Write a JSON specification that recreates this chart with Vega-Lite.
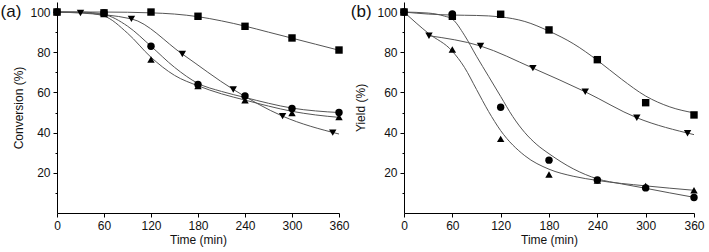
{
  "$schema": "https://vega.github.io/schema/vega-lite/v6.json",
  "padding": {"left": 0, "top": 2, "right": 4, "bottom": 2},
  "spacing": 0,
  "config": {
    "view": {"stroke": null},
    "font": "Liberation Sans",
    "axis": {
      "domainColor": "#000", "tickColor": "#000", "labelColor": "#111", "titleColor": "#111",
      "labelFontSize": 12, "titleFontSize": 12, "titleFontWeight": "normal", "grid": false,
      "labelFont": "Liberation Sans", "titleFont": "Liberation Sans", "labelPadding": 3
    }
  },
  "datasets": {
    "points": [
      {"panel": "a", "series": "sq", "t": 0, "v": 100}, {"panel": "a", "series": "sq", "t": 60, "v": 99.6}, {"panel": "a", "series": "sq", "t": 120, "v": 100}, {"panel": "a", "series": "sq", "t": 180, "v": 97.9}, {"panel": "a", "series": "sq", "t": 240, "v": 92.9}, {"panel": "a", "series": "sq", "t": 300, "v": 87.1}, {"panel": "a", "series": "sq", "t": 360, "v": 81.1},
      {"panel": "a", "series": "ci", "t": 0, "v": 100}, {"panel": "a", "series": "ci", "t": 60, "v": 99.5}, {"panel": "a", "series": "ci", "t": 120, "v": 83}, {"panel": "a", "series": "ci", "t": 180, "v": 64}, {"panel": "a", "series": "ci", "t": 240, "v": 58.2}, {"panel": "a", "series": "ci", "t": 300, "v": 52}, {"panel": "a", "series": "ci", "t": 360, "v": 50},
      {"panel": "a", "series": "tu", "t": 0, "v": 100}, {"panel": "a", "series": "tu", "t": 60, "v": 99}, {"panel": "a", "series": "tu", "t": 120, "v": 76.4}, {"panel": "a", "series": "tu", "t": 180, "v": 63.2}, {"panel": "a", "series": "tu", "t": 240, "v": 56.1}, {"panel": "a", "series": "tu", "t": 300, "v": 49.8}, {"panel": "a", "series": "tu", "t": 360, "v": 47.8},
      {"panel": "a", "series": "td", "t": 0, "v": 100}, {"panel": "a", "series": "td", "t": 30, "v": 99.5}, {"panel": "a", "series": "td", "t": 95, "v": 96.6}, {"panel": "a", "series": "td", "t": 160, "v": 79.1}, {"panel": "a", "series": "td", "t": 225, "v": 61.5}, {"panel": "a", "series": "td", "t": 288, "v": 48.2}, {"panel": "a", "series": "td", "t": 352, "v": 40},
      {"panel": "b", "series": "sq", "t": 0, "v": 100}, {"panel": "b", "series": "sq", "t": 60, "v": 97.9}, {"panel": "b", "series": "sq", "t": 120, "v": 98.9}, {"panel": "b", "series": "sq", "t": 180, "v": 91.1}, {"panel": "b", "series": "sq", "t": 240, "v": 76.3}, {"panel": "b", "series": "sq", "t": 300, "v": 54.9}, {"panel": "b", "series": "sq", "t": 360, "v": 48.8},
      {"panel": "b", "series": "ci", "t": 0, "v": 100}, {"panel": "b", "series": "ci", "t": 60, "v": 99}, {"panel": "b", "series": "ci", "t": 120, "v": 52.6}, {"panel": "b", "series": "ci", "t": 180, "v": 26.3}, {"panel": "b", "series": "ci", "t": 240, "v": 16.4}, {"panel": "b", "series": "ci", "t": 300, "v": 12.5}, {"panel": "b", "series": "ci", "t": 360, "v": 7.7},
      {"panel": "b", "series": "tu", "t": 0, "v": 100}, {"panel": "b", "series": "tu", "t": 60, "v": 81.4}, {"panel": "b", "series": "tu", "t": 120, "v": 36.9}, {"panel": "b", "series": "tu", "t": 180, "v": 19.2}, {"panel": "b", "series": "tu", "t": 240, "v": 16.2}, {"panel": "b", "series": "tu", "t": 300, "v": 13.4}, {"panel": "b", "series": "tu", "t": 360, "v": 11.3},
      {"panel": "b", "series": "td", "t": 0, "v": 100}, {"panel": "b", "series": "td", "t": 31, "v": 88.2}, {"panel": "b", "series": "td", "t": 95, "v": 83.1}, {"panel": "b", "series": "td", "t": 160, "v": 72.1}, {"panel": "b", "series": "td", "t": 225, "v": 60.3}, {"panel": "b", "series": "td", "t": 289, "v": 47.4}, {"panel": "b", "series": "td", "t": 352, "v": 39.7}
    ],
    "fits": [
      {"panel": "a", "series": "sq", "t": 0, "v": 100}, {"panel": "a", "series": "sq", "t": 60, "v": 100}, {"panel": "a", "series": "sq", "t": 120, "v": 99.6}, {"panel": "a", "series": "sq", "t": 150, "v": 99}, {"panel": "a", "series": "sq", "t": 180, "v": 97.7}, {"panel": "a", "series": "sq", "t": 210, "v": 95.6}, {"panel": "a", "series": "sq", "t": 240, "v": 93}, {"panel": "a", "series": "sq", "t": 270, "v": 90}, {"panel": "a", "series": "sq", "t": 300, "v": 87}, {"panel": "a", "series": "sq", "t": 330, "v": 84}, {"panel": "a", "series": "sq", "t": 360, "v": 81},
      {"panel": "a", "series": "ci", "t": 0, "v": 100}, {"panel": "a", "series": "ci", "t": 30, "v": 100}, {"panel": "a", "series": "ci", "t": 60, "v": 98.8}, {"panel": "a", "series": "ci", "t": 90, "v": 93}, {"panel": "a", "series": "ci", "t": 120, "v": 83}, {"panel": "a", "series": "ci", "t": 150, "v": 72.5}, {"panel": "a", "series": "ci", "t": 180, "v": 64.5}, {"panel": "a", "series": "ci", "t": 210, "v": 60.5}, {"panel": "a", "series": "ci", "t": 240, "v": 57.5}, {"panel": "a", "series": "ci", "t": 270, "v": 54.6}, {"panel": "a", "series": "ci", "t": 300, "v": 52.2}, {"panel": "a", "series": "ci", "t": 330, "v": 50.8}, {"panel": "a", "series": "ci", "t": 360, "v": 50},
      {"panel": "a", "series": "tu", "t": 0, "v": 100}, {"panel": "a", "series": "tu", "t": 30, "v": 99.8}, {"panel": "a", "series": "tu", "t": 60, "v": 98}, {"panel": "a", "series": "tu", "t": 90, "v": 89.5}, {"panel": "a", "series": "tu", "t": 120, "v": 77.5}, {"panel": "a", "series": "tu", "t": 150, "v": 68.5}, {"panel": "a", "series": "tu", "t": 180, "v": 63.3}, {"panel": "a", "series": "tu", "t": 210, "v": 59.3}, {"panel": "a", "series": "tu", "t": 240, "v": 56.2}, {"panel": "a", "series": "tu", "t": 270, "v": 53.2}, {"panel": "a", "series": "tu", "t": 300, "v": 50.6}, {"panel": "a", "series": "tu", "t": 330, "v": 48.8}, {"panel": "a", "series": "tu", "t": 360, "v": 47.6},
      {"panel": "a", "series": "td", "t": 0, "v": 100}, {"panel": "a", "series": "td", "t": 30, "v": 99.5}, {"panel": "a", "series": "td", "t": 95, "v": 96.6}, {"panel": "a", "series": "td", "t": 160, "v": 79.1}, {"panel": "a", "series": "td", "t": 225, "v": 61.5}, {"panel": "a", "series": "td", "t": 288, "v": 48.2}, {"panel": "a", "series": "td", "t": 360, "v": 39.3},
      {"panel": "b", "series": "sq", "t": 0, "v": 100}, {"panel": "b", "series": "sq", "t": 30, "v": 99}, {"panel": "b", "series": "sq", "t": 60, "v": 98.5}, {"panel": "b", "series": "sq", "t": 90, "v": 98.3}, {"panel": "b", "series": "sq", "t": 120, "v": 97.6}, {"panel": "b", "series": "sq", "t": 150, "v": 95.3}, {"panel": "b", "series": "sq", "t": 180, "v": 90.5}, {"panel": "b", "series": "sq", "t": 210, "v": 84.3}, {"panel": "b", "series": "sq", "t": 240, "v": 76}, {"panel": "b", "series": "sq", "t": 270, "v": 66.6}, {"panel": "b", "series": "sq", "t": 300, "v": 58.2}, {"panel": "b", "series": "sq", "t": 330, "v": 52.8}, {"panel": "b", "series": "sq", "t": 360, "v": 49.8},
      {"panel": "b", "series": "ci", "t": 0, "v": 100}, {"panel": "b", "series": "ci", "t": 30, "v": 99.5}, {"panel": "b", "series": "ci", "t": 50, "v": 98}, {"panel": "b", "series": "ci", "t": 60, "v": 96.5}, {"panel": "b", "series": "ci", "t": 75, "v": 88.5}, {"panel": "b", "series": "ci", "t": 90, "v": 78}, {"panel": "b", "series": "ci", "t": 105, "v": 68}, {"panel": "b", "series": "ci", "t": 120, "v": 58}, {"panel": "b", "series": "ci", "t": 135, "v": 48}, {"panel": "b", "series": "ci", "t": 150, "v": 40}, {"panel": "b", "series": "ci", "t": 165, "v": 34}, {"panel": "b", "series": "ci", "t": 180, "v": 29.5}, {"panel": "b", "series": "ci", "t": 210, "v": 22}, {"panel": "b", "series": "ci", "t": 240, "v": 17}, {"panel": "b", "series": "ci", "t": 270, "v": 14.5}, {"panel": "b", "series": "ci", "t": 300, "v": 12.3}, {"panel": "b", "series": "ci", "t": 330, "v": 10}, {"panel": "b", "series": "ci", "t": 360, "v": 7.8},
      {"panel": "b", "series": "tu", "t": 0, "v": 100}, {"panel": "b", "series": "tu", "t": 30, "v": 89.5}, {"panel": "b", "series": "tu", "t": 60, "v": 80.5}, {"panel": "b", "series": "tu", "t": 75, "v": 72.5}, {"panel": "b", "series": "tu", "t": 90, "v": 61.5}, {"panel": "b", "series": "tu", "t": 105, "v": 50.5}, {"panel": "b", "series": "tu", "t": 120, "v": 41}, {"panel": "b", "series": "tu", "t": 150, "v": 28.5}, {"panel": "b", "series": "tu", "t": 180, "v": 21.8}, {"panel": "b", "series": "tu", "t": 210, "v": 18.3}, {"panel": "b", "series": "tu", "t": 240, "v": 16.2}, {"panel": "b", "series": "tu", "t": 300, "v": 13.5}, {"panel": "b", "series": "tu", "t": 360, "v": 11.3},
      {"panel": "b", "series": "td", "t": 31, "v": 88.2}, {"panel": "b", "series": "td", "t": 95, "v": 83.1}, {"panel": "b", "series": "td", "t": 160, "v": 72.1}, {"panel": "b", "series": "td", "t": 225, "v": 60.3}, {"panel": "b", "series": "td", "t": 289, "v": 47.4}, {"panel": "b", "series": "td", "t": 360, "v": 39}
    ]
  },
  "hconcat": [
    {
      "width": 282, "height": 211,
      "resolve": {"axis": {"y": "independent"}},
      "layer": [
        {
          "data": {"name": "fits"},
          "transform": [{"filter": "datum.panel === 'a'"}],
          "mark": {"type": "line", "interpolate": "monotone", "color": "#555", "strokeWidth": 1},
          "encoding": {
            "x": {"field": "t", "type": "quantitative", "scale": {"domain": [0, 360], "nice": false}, "axis": {"title": "Time (min)", "values": [0, 30, 60, 90, 120, 150, 180, 210, 240, 270, 300, 330, 360], "labelExpr": "datum.value % 60 === 0 ? datum.label : ''", "tickSize": {"condition": {"test": "datum.value % 60 === 0", "value": 4}, "value": 2}, "labelFlush": false, "labelOverlap": false, "titlePadding": 3}},
            "y": {"field": "v", "type": "quantitative", "scale": {"domain": [0, 105], "nice": false}, "axis": {"title": "Conversion (%)", "values": [20, 40, 60, 80, 100], "tickSize": 4, "labelOverlap": false, "labelFlush": false, "titlePadding": 4}},
            "detail": {"field": "series"}
          }
        },
        {
          "data": {"name": "points"},
          "transform": [{"filter": "datum.panel === 'a'"}],
          "mark": {"type": "point", "filled": true, "color": "#000", "opacity": 1, "size": 55},
          "encoding": {
            "x": {"field": "t", "type": "quantitative"},
            "y": {"field": "v", "type": "quantitative", "axis": {"orient": "left", "values": [10, 30, 50, 70, 90], "labels": false, "domain": false, "title": null, "tickSize": 2}},
            "shape": {"field": "series", "type": "nominal", "scale": {"domain": ["sq", "ci", "tu", "td"], "range": ["square", "circle", "triangle-up", "triangle-down"]}, "legend": null}
          }
        },
        {
          "data": {"values": [{}]},
          "mark": {"type": "text", "fontSize": 17, "align": "left", "baseline": "middle", "color": "#111"},
          "encoding": {"x": {"datum": -72}, "y": {"datum": 100, "axis": null}, "text": {"value": "(a)"}}
        }
      ]
    },
    {
      "width": 290, "height": 211,
      "resolve": {"axis": {"y": "independent"}},
      "layer": [
        {
          "data": {"name": "fits"},
          "transform": [{"filter": "datum.panel === 'b'"}],
          "mark": {"type": "line", "interpolate": "monotone", "color": "#555", "strokeWidth": 1},
          "encoding": {
            "x": {"field": "t", "type": "quantitative", "scale": {"domain": [0, 360], "nice": false}, "axis": {"title": "Time (min)", "values": [0, 30, 60, 90, 120, 150, 180, 210, 240, 270, 300, 330, 360], "labelExpr": "datum.value % 60 === 0 ? datum.label : ''", "tickSize": {"condition": {"test": "datum.value % 60 === 0", "value": 4}, "value": 2}, "labelFlush": false, "labelOverlap": false, "titlePadding": 3}},
            "y": {"field": "v", "type": "quantitative", "scale": {"domain": [0, 105], "nice": false}, "axis": {"title": "Yield (%)", "values": [20, 40, 60, 80, 100], "tickSize": 4, "labelOverlap": false, "labelFlush": false, "titlePadding": 9}},
            "detail": {"field": "series"}
          }
        },
        {
          "data": {"name": "points"},
          "transform": [{"filter": "datum.panel === 'b'"}],
          "mark": {"type": "point", "filled": true, "color": "#000", "opacity": 1, "size": 55},
          "encoding": {
            "x": {"field": "t", "type": "quantitative"},
            "y": {"field": "v", "type": "quantitative", "axis": {"orient": "left", "values": [10, 30, 50, 70, 90], "labels": false, "domain": false, "title": null, "tickSize": 2}},
            "shape": {"field": "series", "type": "nominal", "scale": {"domain": ["sq", "ci", "tu", "td"], "range": ["square", "circle", "triangle-up", "triangle-down"]}, "legend": null}
          }
        },
        {
          "data": {"values": [{}]},
          "mark": {"type": "text", "fontSize": 17, "align": "left", "baseline": "middle", "color": "#111"},
          "encoding": {"x": {"datum": -66}, "y": {"datum": 100, "axis": null}, "text": {"value": "(b)"}}
        }
      ]
    }
  ]
}
